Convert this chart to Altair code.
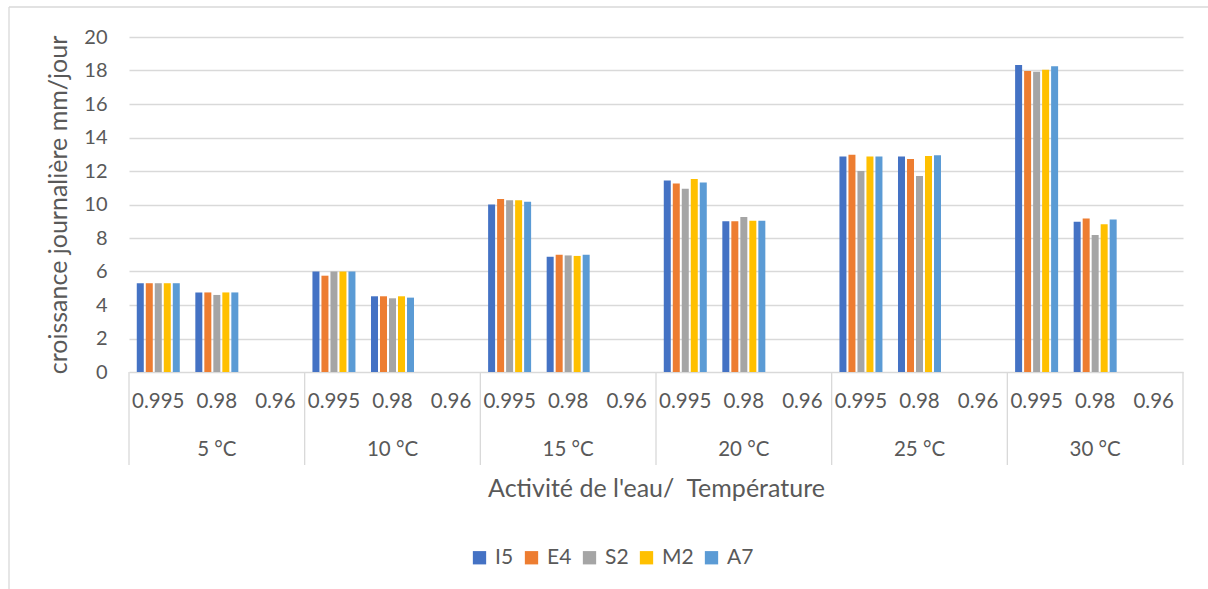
import altair as alt
import pandas as pd

# Categories
temperatures = ["5 °C", "10 °C", "15 °C", "20 °C", "25 °C", "30 °C"]
water_activity = ["0.995", "0.98", "0.96"]
strains = ["I5", "E4", "S2", "M2", "A7"]
strain_colors = ["#4472C4", "#ED7D31", "#A5A5A5", "#FFC000", "#5B9BD5"]
y_ticks = [0, 2, 4, 6, 8, 10, 12, 14, 16, 18, 20]

# Daily growth (mm/jour); for each temperature the order is aw 0.995, 0.98, 0.96
I5 = [5.30, 4.75, None, 6.00, 4.52, None, 10.00, 6.88, None, 11.44, 9.00, None, 12.86, 12.86, None, 18.33, 8.97, None]
E4 = [5.30, 4.75, None, 5.75, 4.52, None, 10.33, 7.00, None, 11.26, 9.00, None, 12.97, 12.72, None, 17.97, 9.17, None]
S2 = [5.30, 4.60, None, 6.00, 4.40, None, 10.25, 6.96, None, 10.94, 9.25, None, 12.00, 11.70, None, 17.93, 8.18, None]
M2 = [5.30, 4.75, None, 6.00, 4.52, None, 10.25, 6.93, None, 11.52, 9.03, None, 12.86, 12.90, None, 18.05, 8.82, None]
A7 = [5.30, 4.75, None, 6.00, 4.44, None, 10.17, 7.00, None, 11.32, 9.03, None, 12.86, 12.94, None, 18.25, 9.11, None]

series = {"I5": I5, "E4": E4, "S2": S2, "M2": M2, "A7": A7}

slots = [f"{t}|{a}" for t in temperatures for a in water_activity]

rows = []
for name, vals in series.items():
    for slot, v in zip(slots, vals):
        if v is not None:
            rows.append({"slot": slot, "strain": name, "value": v})
df = pd.DataFrame(rows)

TEXT = "#595959"
GRID = "#d9d9d9"
FONT = "Lato"
W, H = 1054, 335

x_scale = alt.Scale(domain=slots, paddingInner=0, paddingOuter=0)

# One shared category axis: water activity under each slot
x_axis = alt.Axis(
    title="Activité de l'eau/\u00a0 Température",
    labelExpr="split(datum.value, '|')[1]",
    labelAngle=0,
    labelFontSize=20.5,
    labelPadding=19,
    labelColor=TEXT,
    labelFont=FONT,
    ticks=False,
    domain=False,
    grid=False,
    titleFont=FONT,
    titleFontSize=25,
    titleFontWeight="normal",
    titleColor=TEXT,
    titleY=116,
    titleBaseline="middle",
)


def x_slot(**kw):
    return alt.X("slot:N", scale=x_scale, sort=slots, axis=x_axis, **kw)


bars = alt.Chart(df).mark_bar().encode(
    x=x_slot(),
    xOffset=alt.XOffset(
        "strain:N",
        sort=strains,
        scale=alt.Scale(domain=strains, paddingInner=0.222, paddingOuter=0.864),
    ),
    y=alt.Y(
        "value:Q",
        scale=alt.Scale(domain=[0, 20]),
        axis=alt.Axis(
            title="croissance journalière mm/jour",
            values=y_ticks,
            grid=True,
            gridColor=GRID,
            gridWidth=1.3,
            domain=False,
            ticks=False,
            labelFontSize=20,
            labelPadding=22,
            labelColor=TEXT,
            labelFont=FONT,
            titleFont=FONT,
            titleFontSize=25,
            titleFontWeight="normal",
            titleColor=TEXT,
            titleX=-71,
            titleBaseline="middle",
        ),
    ),
    color=alt.Color(
        "strain:N",
        sort=strains,
        scale=alt.Scale(domain=strains, range=strain_colors),
        legend=alt.Legend(
            title=None,
            orient="none",
            direction="horizontal",
            legendX=340,
            legendY=510,
            padding=0,
            symbolType="square",
            symbolSize=177,
            symbolStrokeWidth=0,
            labelFontSize=21,
            labelFont=FONT,
            labelColor=TEXT,
            labelOffset=5,
            columnPadding=7,
        ),
    ),
)

# Temperature labels centred under each group of three water-activity levels
temp_df = pd.DataFrame({"temp": temperatures, "slot": [f"{t}|0.98" for t in temperatures]})
temp_labels = alt.Chart(temp_df).mark_text(
    font=FONT, fontSize=20.5, color=TEXT, baseline="middle"
).encode(
    x=x_slot(),
    y=alt.value(413),
    text="temp:N",
)

# Vertical separators between temperature groups in the category axis
sep_df = pd.DataFrame({"slot": [f"{t}|0.995" for t in temperatures]})
separators = alt.Chart(sep_df).mark_rule(color=GRID, strokeWidth=1.3).encode(
    x=x_slot(bandPosition=0),
    y=alt.value(H),
    y2=alt.value(428),
)
end_df = pd.DataFrame({"slot": [slots[-1]]})
end_separator = alt.Chart(end_df).mark_rule(color=GRID, strokeWidth=1.3).encode(
    x=x_slot(bandPosition=1),
    y=alt.value(H),
    y2=alt.value(428),
)

# Chart frame (left and top edges)
frame_df = pd.DataFrame({"k": [0]})
frame_left = alt.Chart(frame_df).mark_rule(color=GRID, strokeWidth=1.3).encode(
    x=alt.value(-120), y=alt.value(-30), y2=alt.value(560)
)
frame_top = alt.Chart(frame_df).mark_rule(color=GRID, strokeWidth=1.3).encode(
    x=alt.value(-120), x2=alt.value(1090), y=alt.value(-30)
)

chart = alt.layer(
    frame_left, frame_top, bars, separators, end_separator, temp_labels
).properties(
    width=W,
    height=H,
    autosize=alt.AutoSizeParams(type="none"),
    padding={"left": 129, "top": 37, "right": 25, "bottom": 217},
    background="white",
).configure_view(stroke=None)

chart.save("out.html", embed_options={"renderer": "svg", "actions": False})
